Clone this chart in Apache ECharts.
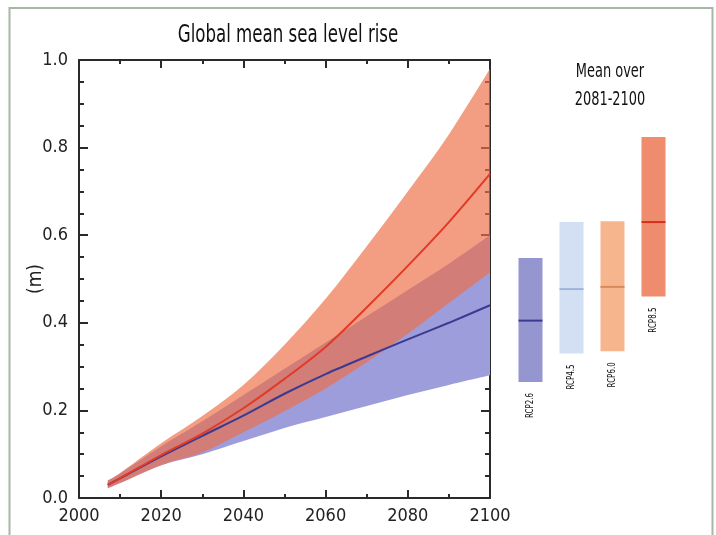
<!DOCTYPE html>
<html>
<head>
<meta charset="utf-8">
<script src="https://cdn.jsdelivr.net/npm/echarts@6/dist/echarts.min.js"></script>
<style>
html,body{margin:0;padding:0;background:#fff;}
#c{width:716px;height:535px;}
</style>
</head>
<body>
<div id="c"></div>
<script>
// ---- data ----
var years      = [2007, 2010, 2020, 2030, 2040, 2050, 2060, 2070, 2080, 2090, 2100];
var rcp26Mean  = [0.030, 0.045, 0.095, 0.142, 0.188, 0.238, 0.283, 0.323, 0.362, 0.400, 0.440];
var rcp26Low   = [0.022, 0.034, 0.075, 0.100, 0.130, 0.160, 0.185, 0.210, 0.235, 0.258, 0.280];
var rcp26High  = [0.040, 0.056, 0.118, 0.175, 0.235, 0.295, 0.355, 0.415, 0.475, 0.535, 0.600];
var rcp85Mean  = [0.030, 0.045, 0.098, 0.147, 0.205, 0.272, 0.345, 0.435, 0.530, 0.630, 0.740];
var rcp85Low   = [0.022, 0.034, 0.075, 0.104, 0.150, 0.198, 0.250, 0.310, 0.375, 0.445, 0.515];
var rcp85High  = [0.040, 0.057, 0.125, 0.187, 0.258, 0.350, 0.455, 0.575, 0.700, 0.830, 0.980];

var barLabels  = ['RCP2.6', 'RCP4.5', 'RCP6.0', 'RCP8.5'];
var barLow     = [0.265, 0.330, 0.335, 0.460];
var barMean    = [0.405, 0.477, 0.482, 0.630];
var barHigh    = [0.548, 0.630, 0.632, 0.824];

var xTicks = [2000, 2020, 2040, 2060, 2080, 2100];
var yTicks = [0.0, 0.2, 0.4, 0.6, 0.8, 1.0];

var titleText = 'Global mean sea level rise';
var panelText = 'Mean over\n2081-2100';

// ---- styles ----
var FONT = "'Liberation Sans Narrow', 'DejaVu Sans Condensed', 'Noto Sans', sans-serif";
var barFill = ['#9595d0', '#d3e0f4', '#f7b58e', '#ef8c6e'];
var barLine = ['#3b3b8e', '#9fb4da', '#d98a5a', '#d3301e'];

function pairs(xs, ys) { return xs.map(function (x, i) { return [x, ys[i]]; }); }

// smooth path (Catmull-Rom -> cubic bezier) through pixel points
function curveSeg(pts) {
  var d = '';
  for (var i = 0; i < pts.length - 1; i++) {
    var p0 = pts[Math.max(i - 1, 0)], p1 = pts[i], p2 = pts[i + 1], p3 = pts[Math.min(i + 2, pts.length - 1)];
    var c1 = [p1[0] + (p2[0] - p0[0]) / 6, p1[1] + (p2[1] - p0[1]) / 6];
    var c2 = [p2[0] - (p3[0] - p1[0]) / 6, p2[1] - (p3[1] - p1[1]) / 6];
    d += ' C' + c1[0] + ' ' + c1[1] + ' ' + c2[0] + ' ' + c2[1] + ' ' + p2[0] + ' ' + p2[1];
  }
  return d;
}
function bandSeries(lo, hi, fill, z) {
  return {
    type: 'custom', xAxisIndex: 0, yAxisIndex: 0, z: z, silent: true,
    data: years.map(function (y, i) { return [y, lo[i], hi[i]]; }),
    renderItem: function (params, api) {
      if (params.dataIndex !== 0) return null;
      var up = years.map(function (y, i) { return api.coord([y, hi[i]]); });
      var dn = years.map(function (y, i) { return api.coord([y, lo[i]]); }).reverse();
      var d = 'M' + up[0][0] + ' ' + up[0][1] + curveSeg(up) +
              ' L' + dn[0][0] + ' ' + dn[0][1] + curveSeg(dn) + ' Z';
      return { type: 'path', shape: { pathData: d }, style: { fill: fill } };
    }
  };
}

var axisCol = '#2a2a2a';
function xAx(pos, showLabel) {
  return {
    type: 'value', gridIndex: 0, position: pos, min: 2000, max: 2100, interval: 20,
    axisLine: { show: true, onZero: false, lineStyle: { color: axisCol, width: 2 } },
    axisTick: { show: true, inside: true, length: 8, lineStyle: { color: axisCol, width: 2 } },
    minorTick: { show: true, splitNumber: 2, length: 4, lineStyle: { color: axisCol, width: 2 } },
    axisLabel: { show: showLabel, margin: 9, fontSize: 18, color: '#222', fontFamily: FONT,
      formatter: function (v) { return xTicks.indexOf(v) >= 0 ? String(v) : ''; } },
    splitLine: { show: false }
  };
}
function yAx(pos, showLabel) {
  return {
    type: 'value', gridIndex: 0, position: pos, min: 0, max: 1, interval: 0.2,
    name: showLabel ? '(m)' : '', nameLocation: 'middle', nameGap: 33, nameRotate: 90,
    nameMoveOverlap: false,
    nameTextStyle: { fontSize: 19, color: '#222', fontFamily: FONT },
    axisLine: { show: true, onZero: false, lineStyle: { color: axisCol, width: 2 } },
    axisTick: { show: true, inside: true, length: 9, lineStyle: { color: axisCol, width: 2 } },
    minorTick: { show: true, splitNumber: 4, length: 5, lineStyle: { color: axisCol, width: 2 } },
    axisLabel: { show: showLabel, margin: 11, fontSize: 18, color: '#222', fontFamily: FONT,
      formatter: function (v) {
        for (var i = 0; i < yTicks.length; i++) if (Math.abs(yTicks[i] - v) < 1e-9) return yTicks[i].toFixed(1);
        return '';
      } },
    splitLine: { show: false }
  };
}

var chart = echarts.init(document.getElementById('c'), null, { renderer: 'canvas' });
var option = {
  animation: false,
  backgroundColor: '#ffffff',
  graphic: [
    { type: 'rect', shape: { x: 9.5, y: 8, width: 703, height: 600 },
      style: { fill: 'none', stroke: '#a8b6a6', lineWidth: 2 }, silent: true, z: 100 },
    { type: 'text', x: 288, y: 35, scaleX: 0.74, silent: true,
      style: { text: titleText, align: 'center', verticalAlign: 'middle',
        fontSize: 25, fill: '#111', fontFamily: FONT } },
    { type: 'text', x: 610, y: 86, scaleX: 0.72, silent: true,
      style: { text: panelText, align: 'center', verticalAlign: 'middle',
        fontSize: 20, lineHeight: 28, fill: '#111', fontFamily: FONT } }
  ],
  grid: [
    { left: 79, right: 226, top: 60, bottom: 37 },
    { left: 510, width: 164, top: 60, bottom: 37 }
  ],
  xAxis: [
    xAx('bottom', true),
    xAx('top', false),
    { type: 'category', gridIndex: 1, data: barLabels, show: false }
  ],
  yAxis: [
    yAx('left', true),
    yAx('right', false),
    { type: 'value', gridIndex: 1, min: 0, max: 1, show: false }
  ],
  series: [
    bandSeries(rcp26Low, rcp26High, '#9d9ddb', 1),
    bandSeries(rcp85Low, rcp85High, 'rgba(238,110,72,0.68)', 2),
    { type: 'line', xAxisIndex: 0, yAxisIndex: 0, smooth: 0.3, symbol: 'none', z: 3,
      lineStyle: { color: '#3a3a92', width: 2 }, data: pairs(years, rcp26Mean) },
    { type: 'line', xAxisIndex: 0, yAxisIndex: 0, smooth: 0.3, symbol: 'none', z: 3,
      lineStyle: { color: '#e23a26', width: 2 }, data: pairs(years, rcp85Mean) },
    { type: 'custom', xAxisIndex: 2, yAxisIndex: 2, z: 3, silent: true,
      data: barLabels.map(function (l, i) { return [i, barLow[i], barMean[i], barHigh[i]]; }),
      renderItem: function (params, api) {
        var i = api.value(0);
        var lo = api.coord([i, api.value(1)]);
        var mid = api.coord([i, api.value(2)]);
        var hi = api.coord([i, api.value(3)]);
        var w = 24;
        return { type: 'group', children: [
          { type: 'rect', shape: { x: lo[0] - w / 2, y: hi[1], width: w, height: lo[1] - hi[1] },
            style: { fill: barFill[i] } },
          { type: 'line', shape: { x1: lo[0] - w / 2, y1: mid[1], x2: lo[0] + w / 2, y2: mid[1] },
            style: { stroke: barLine[i], lineWidth: 2 } },
          { type: 'text', x: lo[0], y: lo[1] + 11, rotation: Math.PI / 2, scaleX: 0.72,
            style: { text: barLabels[i], align: 'right', verticalAlign: 'middle',
              fontSize: 11, fill: '#111', fontFamily: FONT } }
        ] };
      }
    }
  ]
};
chart.setOption(option);
</script>
</body>
</html>
